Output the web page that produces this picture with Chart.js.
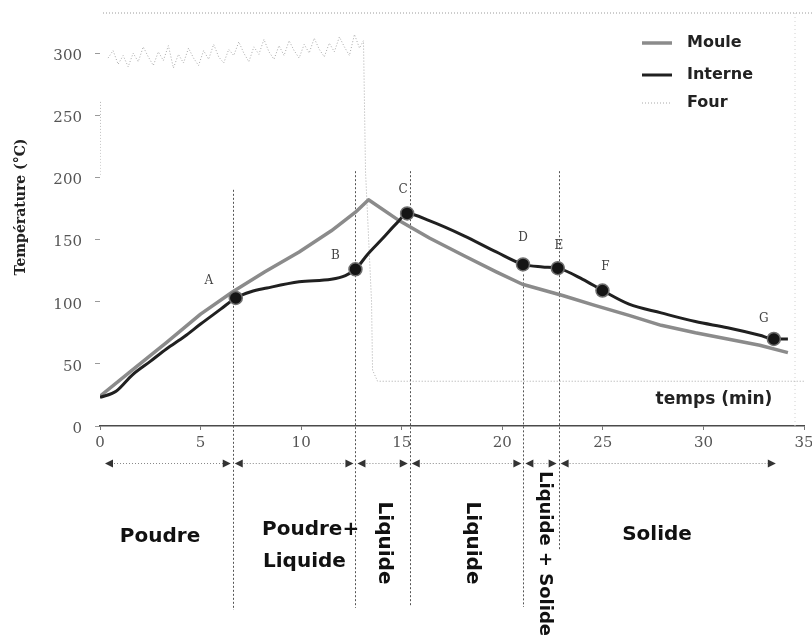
<!DOCTYPE html>
<html>
<head>
<meta charset="utf-8">
<script src="https://cdn.jsdelivr.net/npm/chart.js@4.4.1/dist/chart.umd.min.js"></script>
<style>
  html, body { margin: 0; padding: 0; background: #fff; }
  canvas { display: block; }
</style>
</head>
<body>
<canvas id="chart" width="812" height="636"></canvas>
<script>
// Temperature curves during the rotomoulding cycle (time in minutes, temperature in °C)
const seriesNames = ['Moule', 'Interne', 'Four'];

const mouleX = [0, 1.6, 3.3, 5, 6.6, 8.2, 9.9, 11.5, 12.7, 13.35, 14.8, 16.4, 18.1, 19.7, 21, 23, 24.6, 26.3, 27.9, 29.6, 31.2, 32.8, 34.2];
const mouleY = [24, 45, 67, 90, 108, 124, 140, 157, 172, 182, 166, 151, 137, 124, 114, 105, 97, 89, 81, 75, 70, 65, 59];

const interneX = [0, 0.8, 1.6, 2.5, 3.3, 4.2, 5, 6, 6.75, 7.5, 8.3, 9.9, 11.5, 12.2, 12.7, 13.3, 14, 14.8, 15.27, 16.4, 18.1, 19.7, 21.03, 22, 22.76, 24, 24.98, 26.3, 27.9, 29.6, 31.2, 32.8, 33.5, 34.2];
const interneY = [23, 28, 41, 52, 62, 72, 82, 94, 103, 108, 111, 116, 118, 121, 126, 138, 150, 164, 171, 165, 153, 140, 130, 128, 127, 118, 109, 98, 91, 84, 79, 73, 70, 70];

const fourX = [0, 0.02, 0.1, 0.4, 0.65, 0.9, 1.15, 1.4, 1.65, 1.9, 2.15, 2.4, 2.65, 2.9, 3.15, 3.4, 3.65, 3.9, 4.15, 4.4, 4.65, 4.9, 5.15, 5.4, 5.65, 5.9, 6.15, 6.4, 6.65, 6.9, 7.15, 7.4, 7.65, 7.9, 8.15, 8.4, 8.65, 8.9, 9.15, 9.4, 9.65, 9.9, 10.15, 10.4, 10.65, 10.9, 11.15, 11.4, 11.65, 11.9, 12.15, 12.4, 12.65, 12.9, 13.1, 13.2, 13.5, 13.55, 13.8, 35];
const fourY = [202, 262, null, 296, 302, 291, 298, 289, 300, 293, 305, 297, 290, 301, 294, 306, 288, 299, 292, 304, 296, 290, 302, 295, 307, 297, 292, 303, 298, 309, 300, 293, 305, 299, 311, 301, 295, 306, 298, 310, 302, 296, 307, 300, 312, 303, 297, 308, 301, 313, 305, 298, 315, 304, 310, 205, 100, 45, 36, 36];

// Characteristic points on the internal air curve
const stageNames = ['A', 'B', 'C', 'D', 'E', 'F', 'G'];
const stageX = [6.75, 12.7, 15.27, 21.03, 22.76, 24.98, 33.5];
const stageY = [103, 126, 171, 130, 127, 109, 70];

// Material state phases (boundaries in minutes)
const phaseBounds = [0.25, 6.6, 12.7, 15.4, 21.05, 22.8, 33.6];
const phaseNames = ['Poudre', 'Poudre+|Liquide', 'Liquide', 'Liquide', 'Liquide + Solide', 'Solide'];

const xTicks = [0, 5, 10, 15, 20, 25, 30, 35];
const yTicks = [0, 50, 100, 150, 200, 250, 300];

const pts = (xs, ys) => xs.map((x, i) => ({ x: x, y: ys[i] }));

const SANS = '"DejaVu Sans", sans-serif';
const SERIF = '"DejaVu Serif", serif';

const styles = {
  Moule:   { color: '#8b8b8b', width: 3.5, dash: [] },
  Interne: { color: '#202020', width: 3, dash: [] },
  Four:    { color: '#a8a8a8', width: 1, dash: [1, 2] }
};

function dotted(ctx, x1, y1, x2, y2, color, dash) {
  ctx.save();
  ctx.strokeStyle = color;
  ctx.lineWidth = 1;
  ctx.setLineDash(dash);
  ctx.beginPath();
  ctx.moveTo(x1, y1);
  ctx.lineTo(x2, y2);
  ctx.stroke();
  ctx.restore();
}

function arrowHead(ctx, x, y, dir) {
  ctx.beginPath();
  ctx.moveTo(x, y);
  ctx.lineTo(x - dir * 8, y - 4);
  ctx.lineTo(x - dir * 8, y + 4);
  ctx.closePath();
  ctx.fill();
}

const decor = {
  id: 'decor',
  beforeDatasetsDraw(chart) {
    const { ctx, scales: { x, y }, chartArea: a } = chart;
    // frame
    dotted(ctx, a.left + 3, 13, 812, 13, '#9a9a9a', [1, 2]);
    dotted(ctx, a.right - 9, 13, a.right - 9, a.bottom, '#d0d0d0', [1, 3]);
    // phase boundaries
    const tops = [190, 205, 205, 122, 205];
    const bottoms = [610, 608, 607, 607, 550];
    for (let i = 1; i < phaseBounds.length - 1; i++) {
      const px = Math.round(x.getPixelForValue(phaseBounds[i])) + 0.5;
      dotted(ctx, px, y.getPixelForValue(tops[i - 1]), px, bottoms[i - 1], '#555', [2, 2]);
    }
  },
  afterDatasetsDraw(chart) {
    const { ctx, scales: { x, y } } = chart;
    ctx.save();

    // point letters
    const meta = chart.getDatasetMeta(3);
    const offs = [[-27, -17], [-20, -13], [-4, -24], [0, -27], [1, -22], [3, -24], [-10, -20]];
    ctx.font = '12px ' + SERIF;
    ctx.fillStyle = '#444';
    ctx.textAlign = 'center';
    ctx.textBaseline = 'middle';
    meta.data.forEach((el, i) => {
      ctx.fillText(stageNames[i], el.x + offs[i][0], el.y + offs[i][1]);
    });

    // y axis caption
    ctx.save();
    ctx.translate(21, 207);
    ctx.rotate(-Math.PI / 2);
    ctx.font = 'bold 14px ' + SERIF;
    ctx.fillStyle = '#222';
    ctx.fillText('Température (°C)', 0, 0);
    ctx.restore();

    // x axis caption
    ctx.font = 'bold 17px ' + SANS;
    ctx.fillStyle = '#222';
    ctx.fillText('temps (min)', 714, 400);

    // legend
    const rows = [43, 75, 103];
    seriesNames.forEach((name, i) => {
      const s = styles[name];
      ctx.save();
      ctx.strokeStyle = s.color;
      ctx.lineWidth = s.width;
      ctx.setLineDash(s.dash);
      ctx.beginPath();
      ctx.moveTo(642, rows[i]);
      ctx.lineTo(672, rows[i]);
      ctx.stroke();
      ctx.restore();
      ctx.font = 'bold 16px ' + SANS;
      ctx.fillStyle = '#222';
      ctx.textAlign = 'left';
      ctx.fillText(name, 687, rows[i]);
    });

    // phase arrows
    const rowY = 463.5;
    ctx.fillStyle = '#333';
    for (let i = 0; i < phaseBounds.length - 1; i++) {
      const xa = x.getPixelForValue(phaseBounds[i]) + (i === 0 ? 0 : 2);
      const xb = x.getPixelForValue(phaseBounds[i + 1]) - (i === phaseBounds.length - 2 ? 0 : 2);
      dotted(ctx, xa + 6, rowY, xb - 6, rowY, '#888', [1, 2]);
      arrowHead(ctx, xa, rowY, -1);
      arrowHead(ctx, xb, rowY, 1);
    }

    // phase names
    ctx.fillStyle = '#111';
    ctx.font = 'bold 20px ' + SANS;
    ctx.textAlign = 'center';
    ctx.fillText(phaseNames[0], 160, 537);
    const two = phaseNames[1].split('|');
    ctx.textAlign = 'left';
    ctx.fillText(two[0], 262, 530);
    ctx.fillText(two[1], 263, 562);
    ctx.textAlign = 'center';
    ctx.fillText(phaseNames[5], 657, 535);

    const vertical = (text, px, py, align, size) => {
      ctx.save();
      ctx.translate(px, py);
      ctx.rotate(Math.PI / 2);
      ctx.font = 'bold ' + size + 'px ' + SANS;
      ctx.textAlign = align;
      ctx.textBaseline = 'middle';
      ctx.fillText(text, 0, 0);
      ctx.restore();
    };
    vertical(phaseNames[2], 384, 543, 'center', 20);
    vertical(phaseNames[3], 472, 543, 'center', 20);
    vertical(phaseNames[4], 545, 471, 'left', 18);

    ctx.restore();
  }
};

new Chart(document.getElementById('chart'), {
  type: 'line',
  data: {
    datasets: [
      { label: 'Four', data: pts(fourX, fourY), borderColor: styles.Four.color, borderWidth: styles.Four.width,
        borderDash: styles.Four.dash, pointRadius: 0, tension: 0, spanGaps: false, order: 3 },
      { label: 'Moule', data: pts(mouleX, mouleY), borderColor: styles.Moule.color, borderWidth: styles.Moule.width,
        pointRadius: 0, tension: 0, borderJoinStyle: 'round', order: 2 },
      { label: 'Interne', data: pts(interneX, interneY), borderColor: styles.Interne.color, borderWidth: styles.Interne.width,
        pointRadius: 0, cubicInterpolationMode: 'monotone', order: 1 },
      { label: 'Points', data: pts(stageX, stageY), showLine: false, pointRadius: 6.5,
        pointBackgroundColor: '#151515', pointBorderColor: '#707070', pointBorderWidth: 1.5, order: 0 }
    ]
  },
  options: {
    responsive: false,
    animation: false,
    layout: { padding: { top: 10, right: 2, left: 0, bottom: 0 } },
    plugins: { legend: { display: false }, tooltip: { enabled: false } },
    scales: {
      x: {
        type: 'linear', min: 0, max: 35,
        afterBuildTicks: s => { s.ticks = xTicks.map(v => ({ value: v })); },
        afterFit: s => { s.height = 210; s.paddingLeft = 0; s.paddingRight = 0; },
        grid: { display: true, drawOnChartArea: false, drawTicks: true, tickLength: 4, color: '#777' },
        border: { display: true, color: '#4a4a4a', width: 1.5 },
        ticks: { font: { family: 'DejaVu Serif', size: 15 }, color: '#555', padding: 4, maxRotation: 0, autoSkip: false }
      },
      y: {
        min: 0, max: 325,
        afterBuildTicks: s => { s.ticks = yTicks.map(v => ({ value: v })); },
        afterFit: s => { s.width = 100; },
        grid: { display: true, drawOnChartArea: false, drawTicks: true, tickLength: 5, color: '#9a9a9a' },
        border: { display: false },
        ticks: { font: { family: 'DejaVu Serif', size: 15 }, color: '#555', padding: 13, labelOffset: 3 }
      }
    }
  },
  plugins: [decor]
});
</script>
</body>
</html>
